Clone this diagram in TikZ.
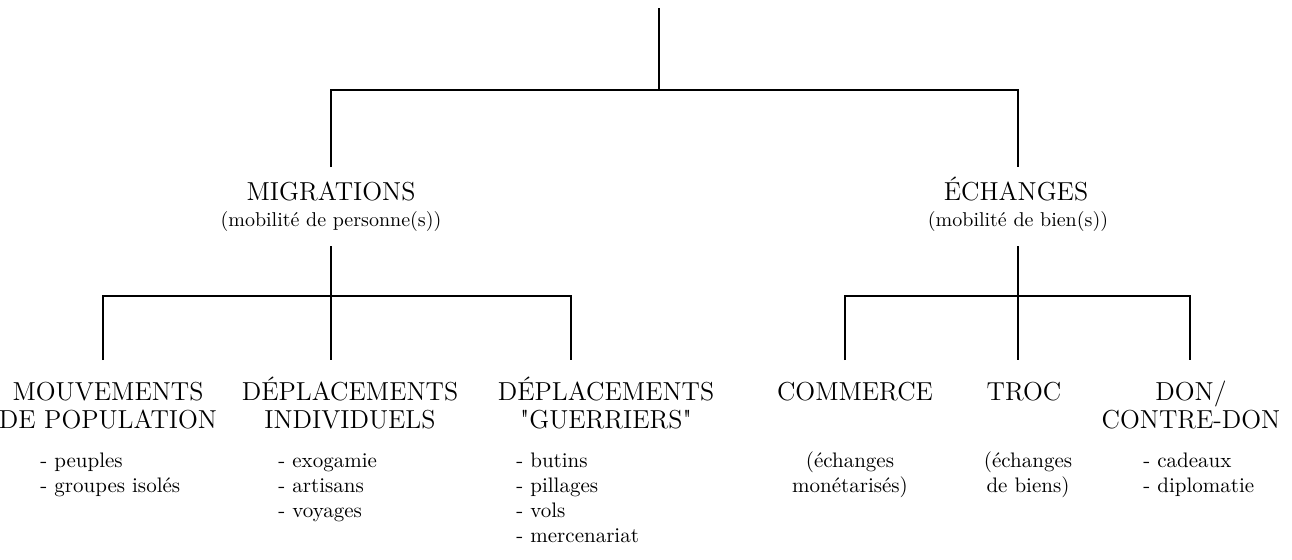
\documentclass[tikz,border=0pt]{standalone}
\usepackage{fontspec}
\begin{document}
\begin{tikzpicture}[x=0.5pt,y=-0.5pt,
  link/.style={line width=1.4pt},
  head/.style={font=\fontsize{13}{14}\selectfont, align=center, inner sep=0pt, anchor=base},
  subt/.style={font=\fontsize{10}{13}\selectfont, align=center, inner sep=0pt, anchor=base},
  items/.style={font=\fontsize{10.5}{12.5}\selectfont, align=left, inner sep=0pt, anchor=base west},
  cnote/.style={font=\fontsize{10.5}{12.5}\selectfont, align=center, inner sep=0pt, anchor=base}]
\useasboundingbox (0,0) rectangle (1292,559);
% level 1
\node[head] (mig) at (331,200) {MIGRATIONS};
\node[subt] (migsub) at (331,226) {(mobilité de personne(s))};
\node[head] (ech) at (1016,200) {ÉCHANGES};
\node[subt] (echsub) at (1018,226) {(mobilité de bien(s))};
% level 2 (anchor = baseline of the last line)
\node[head] (mouv) at (108,428) {MOUVEMENTS\\DE POPULATION};
\node[head] (depi) at (350,428) {DÉPLACEMENTS\\INDIVIDUELS};
\node[head] (depg) at (606,428) {DÉPLACEMENTS\\\textquotedbl GUERRIERS\textquotedbl};
\node[head] (comm) at (855,400) {COMMERCE};
\node[head] (troc) at (1024,400) {TROC};
\node[head] (don) at (1191,428) {DON/\\CONTRE-DON};
% level 3 (anchor = baseline of the last line)
\node[items] (mouvi) at (40,492) {- peuples\\- groupes isolés};
\node[items] (depii) at (278,517) {- exogamie\\- artisans\\- voyages};
\node[items] (depgi) at (516,542) {- butins\\- pillages\\- vols\\- mercenariat};
\node[cnote] (commi) at (850,492) {(échanges\\monétarisés)};
\node[cnote] (troci) at (1028,492) {(échanges\\de biens)};
\node[items] (doni) at (1143,492) {- cadeaux\\- diplomatie};
% connector coordinates
\coordinate (top) at (659,8);
\coordinate (j0) at (659,90);
\coordinate (migtop) at (331,167);
\coordinate (echtop) at (1018,167);
\coordinate (migbot) at (331,246);
\coordinate (echbot) at (1018,246);
\coordinate (mj) at (331,296);
\coordinate (ej) at (1018,296);
\coordinate (mouvtop) at (103,360);
\coordinate (depitop) at (331,360);
\coordinate (depgtop) at (571,360);
\coordinate (commtop) at (845,360);
\coordinate (troctop) at (1018,360);
\coordinate (dontop) at (1190,360);
% connectors
\draw[link] (top) -- (j0);
\draw[link] (migtop) |- (j0) -| (echtop);
\draw[link] (migbot) -- (depitop);
\draw[link] (mouvtop) |- (mj) -| (depgtop);
\draw[link] (echbot) -- (troctop);
\draw[link] (commtop) |- (ej) -| (dontop);
\end{tikzpicture}
\end{document}
